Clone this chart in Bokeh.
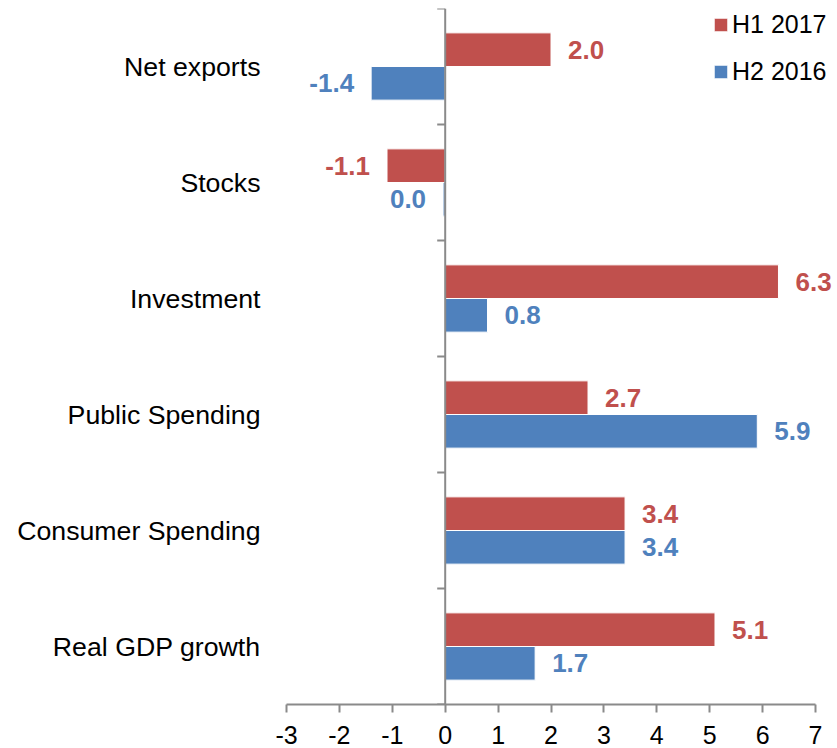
import numpy as np
from bokeh.plotting import figure
from bokeh.models import Range1d, FixedTicker, Span, Legend, LegendItem, ColumnDataSource
from bokeh.embed import file_html
from bokeh.resources import INLINE
from bokeh.core.properties import value

# ---- data ----
categories = ["Real GDP growth", "Consumer Spending", "Public Spending",
              "Investment", "Stocks", "Net exports"]
h1_2017 = [5.1, 3.4, 2.7, 6.3, -1.1, 2.0]
h2_2016 = [1.7, 3.4, 5.9, 0.8, -0.04, -1.4]
series_names = ["H1 2017", "H2 2016"]
x_ticks = list(range(-3, 8))

RED = "#C0504D"
BLUE = "#4F81BD"
GRAY = "#8A8A8A"
FONT = "Liberation Sans"

n = len(categories)
idx = list(range(n))
BAR_H = 0.29
X_MIN, X_MAX = x_ticks[0], x_ticks[-1]
# extra room right of the last tick so labels/legend are not clipped
X_END = X_MAX + 22 / 52.9

p = figure(width=837, height=760, output_backend="svg", toolbar_location=None,
           x_range=Range1d(X_MIN, X_END), y_range=Range1d(-0.5, n - 0.5),
           min_border_left=286, min_border_right=0, min_border_top=8,
           min_border_bottom=56)
p.outline_line_color = None
p.xgrid.visible = False
p.ygrid.visible = False
p.background_fill_color = "white"


def make_src(vals, off):
    ys = [i + off for i in idx]
    labs = ["%.1f" % (round(v, 1) + 0.0) for v in vals]
    xoff = [17 if v >= 0 else -17 for v in vals]
    align = ["left" if v >= 0 else "right" for v in vals]
    return ColumnDataSource(dict(y=ys, v=vals, lab=labs, xoff=xoff, align=align,
                                 zero=[0] * len(vals)))


src_red = make_src(h1_2017, BAR_H / 2)
src_blue = make_src(h2_2016, -BAR_H / 2)

r_red = p.hbar(y="y", left="zero", right="v", height=BAR_H, source=src_red,
               fill_color=RED, line_color="white", line_width=1)
r_blue = p.hbar(y="y", left="zero", right="v", height=BAR_H, source=src_blue,
                fill_color=BLUE, line_color="white", line_width=1)

for src, col in ((src_red, RED), (src_blue, BLUE)):
    p.text(x="v", y="y", text="lab", x_offset="xoff", text_align="align",
           text_baseline="middle", text_font=value(FONT), text_font_style="bold",
           text_font_size="26px", text_color=col, source=src)

# zero line with category separator ticks
p.add_layout(Span(location=0, dimension="height", line_color=GRAY, line_width=2))
bounds = [i - 0.5 for i in range(n + 1)]
p.ray(x=[0] * len(bounds), y=bounds, length=8, length_units="screen",
      angle=np.pi, line_color=GRAY, line_width=2)

# x axis
xa = p.xaxis[0]
xa.ticker = FixedTicker(ticks=x_ticks)
xa.bounds = (X_MIN, X_MAX)
xa.major_label_overrides = {t: str(t) for t in x_ticks}
xa.axis_line_color = GRAY
xa.axis_line_width = 2
xa.major_tick_line_color = GRAY
xa.major_tick_line_width = 2
xa.major_tick_out = 8
xa.major_tick_in = 0
xa.minor_tick_line_color = None
xa.major_label_text_font = FONT
xa.major_label_text_font_size = "25px"
xa.major_label_text_color = "black"
xa.major_label_standoff = 13

# y axis (category labels)
ya = p.yaxis[0]
ya.ticker = FixedTicker(ticks=idx)
ya.major_label_overrides = {i: c for i, c in zip(idx, categories)}
ya.axis_line_color = None
ya.major_tick_line_color = None
ya.minor_tick_line_color = None
ya.major_tick_out = 0
ya.major_tick_in = 0
ya.major_label_standoff = 26
ya.major_label_text_font = FONT
ya.major_label_text_font_size = "26.7px"
ya.major_label_text_color = "black"

legend = Legend(items=[LegendItem(label=series_names[0], renderers=[r_red]),
                       LegendItem(label=series_names[1], renderers=[r_blue])],
                location=(426, 618), glyph_width=17, glyph_height=17,
                label_standoff=3, spacing=18, padding=0, margin=0,
                border_line_color=None, background_fill_alpha=0,
                label_text_font=FONT, label_text_font_size="25px",
                label_text_color="black")
p.add_layout(legend)

open("out.html", "w").write(file_html(p, INLINE))
